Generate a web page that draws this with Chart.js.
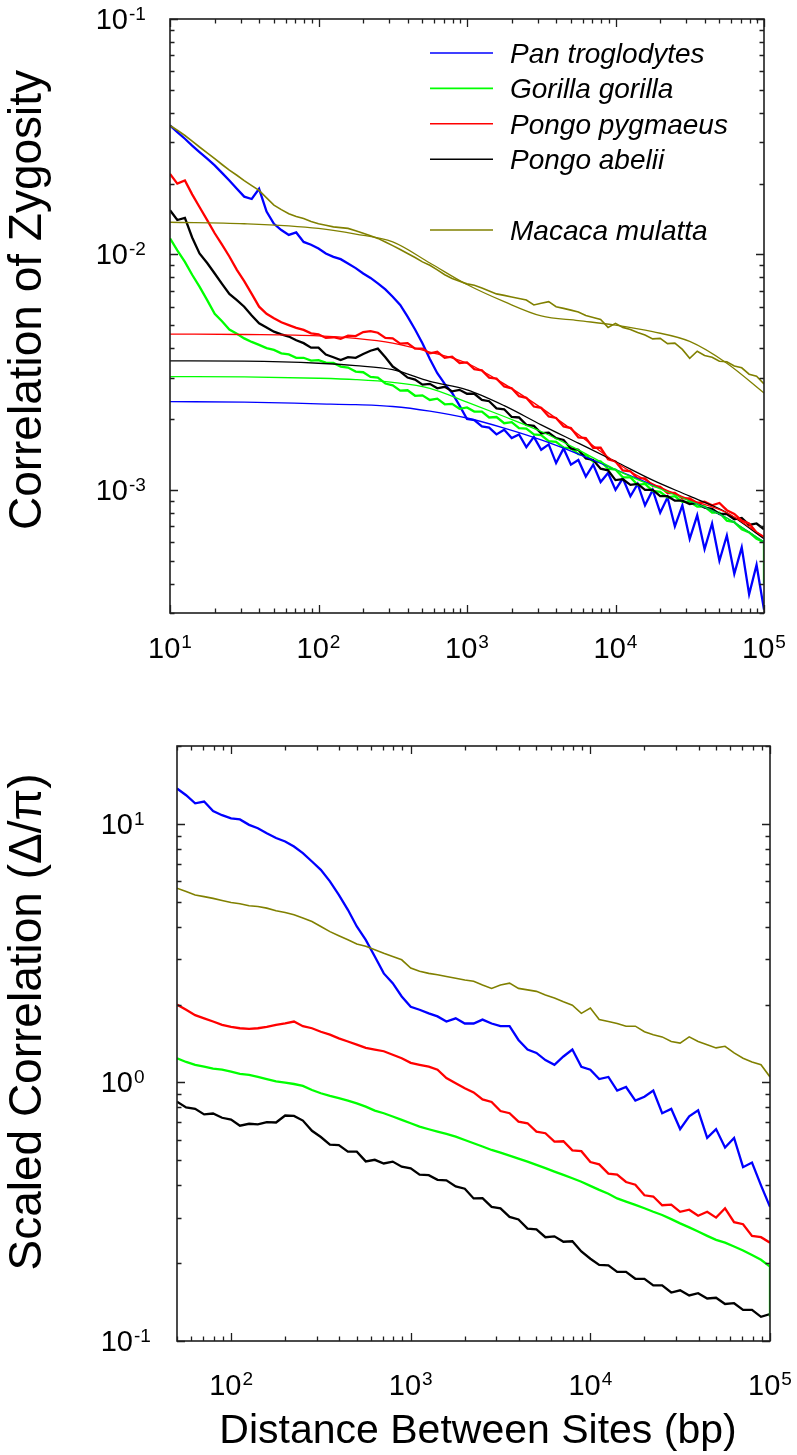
<!DOCTYPE html>
<html>
<head>
<meta charset="utf-8">
<script src="https://cdn.jsdelivr.net/npm/chart.js@4.4.1/dist/chart.umd.min.js"></script>
<style>
  html, body { margin: 0; padding: 0; background: #fff; }
  #wrap { position: relative; width: 797px; height: 1455px; }
  canvas { position: absolute; left: 0; }
  #topChart { top: 0; }
  #bottomChart { top: 700px; }
</style>
</head>
<body>
<div id="wrap">
  <canvas id="topChart" width="797" height="700"></canvas>
  <canvas id="bottomChart" width="797" height="755"></canvas>
</div>
<script>
// species and colours
const species = ['Pan troglodytes', 'Gorilla gorilla', 'Pongo pygmaeus', 'Pongo abelii', 'Macaca mulatta'];
const colors = ['#0000ff', '#00ff00', '#ff0000', '#000000', '#808000'];

// ---- top panel: correlation of zygosity vs distance (bp) ----
const distTop = [
  10, 11.2, 12.6, 14.1, 15.8, 17.8, 20, 22.4, 25.1, 28.2, 31.6, 35.5, 39.8, 44.7, 50.1, 56.2, 63.1, 70.8, 79.4, 89.1,
  100, 112, 126, 141, 158, 178, 200, 224, 251, 282, 316, 355, 398, 447, 501, 562, 631, 708, 794, 891,
  1000, 1120, 1260, 1410, 1580, 1780, 2000, 2240, 2510, 2820, 3160, 3550, 3980, 4470, 5010, 5620, 6310, 7080, 7940, 8910,
  10000, 11200, 12600, 14100, 15800, 17800, 20000, 22400, 25100, 28200, 31600, 35500, 39800, 44700, 50100, 56200, 63100, 70800, 79400, 89100,
  100000
];
const panTop = [
  0.0353, 0.0331, 0.0310, 0.0290, 0.0272, 0.0255, 0.0239, 0.0222, 0.0206, 0.0190, 0.0176, 0.0172, 0.0190, 0.0152, 0.0135, 0.0127, 0.0121, 0.0124, 0.0113, 0.0110,
  0.0106, 0.0101, 0.00977, 0.00955, 0.00916, 0.00875, 0.00830, 0.00795, 0.00753, 0.00710, 0.00661, 0.00610, 0.00544, 0.00480, 0.00420, 0.00360, 0.00313, 0.00282, 0.00258, 0.00228,
  0.00200, 0.00198, 0.00186, 0.00184, 0.00172, 0.00180, 0.00166, 0.00172, 0.00152, 0.00168, 0.00148, 0.00156, 0.00130, 0.00150, 0.00128, 0.00134, 0.00114, 0.00128, 0.00108, 0.00118,
  0.00100, 0.00112, 0.00094, 0.00106, 0.00086, 0.00100, 0.00080, 0.00093, 0.00070, 0.00086, 0.00062, 0.00078, 0.00056, 0.00072, 0.00050, 0.00064, 0.00044, 0.00057, 0.00036, 0.00048,
  0.00031
];
const gorTop = [
  0.0117, 0.0104, 0.0093, 0.0082, 0.0073, 0.0064, 0.0056, 0.0052, 0.0048, 0.0046, 0.0044, 0.00425, 0.00413, 0.00400, 0.00393, 0.00380, 0.00376, 0.00364, 0.00364, 0.00354,
  0.00356, 0.00347, 0.00346, 0.00334, 0.00331, 0.00318, 0.00316, 0.00302, 0.00300, 0.00283, 0.00278, 0.00264, 0.00265, 0.00251, 0.00252, 0.00241, 0.00244, 0.00231, 0.00232, 0.00221,
  0.00224, 0.00215, 0.00215, 0.00203, 0.00204, 0.00192, 0.00194, 0.00183, 0.00182, 0.00172, 0.00171, 0.00161, 0.00160, 0.00151, 0.00150, 0.00142, 0.00141, 0.00132, 0.00132, 0.00123,
  0.00122, 0.00113, 0.00113, 0.00105, 0.00106, 0.00099, 0.00098, 0.00093, 0.00094, 0.00089, 0.00089, 0.00085, 0.00085, 0.00080, 0.00080, 0.00074, 0.00073, 0.00068, 0.00066, 0.00062,
  0.00060
];
const gorTopEnd = 0.00040;
const pygTop = [
  0.0220, 0.0200, 0.0206, 0.0180, 0.0159, 0.0140, 0.0123, 0.0110, 0.0098, 0.0086, 0.0077, 0.0068, 0.0060, 0.0056, 0.00536, 0.00515, 0.00501, 0.00488, 0.00478, 0.00462,
  0.00458, 0.00442, 0.00445, 0.00438, 0.00452, 0.00450, 0.00468, 0.00472, 0.00465, 0.00442, 0.00440, 0.00418, 0.00420, 0.00398, 0.00398, 0.00380, 0.00386, 0.00364, 0.00368, 0.00346,
  0.00348, 0.00326, 0.00322, 0.00300, 0.00297, 0.00275, 0.00270, 0.00250, 0.00246, 0.00226, 0.00223, 0.00205, 0.00202, 0.00186, 0.00183, 0.00167, 0.00166, 0.00151, 0.00151, 0.00135,
  0.00132, 0.00121, 0.00120, 0.00112, 0.00112, 0.00104, 0.00103, 0.00097, 0.00097, 0.00092, 0.00092, 0.00088, 0.00089, 0.00086, 0.00088, 0.00082, 0.00079, 0.00074, 0.00072, 0.00066,
  0.00063
];
const abeTop = [
  0.0154, 0.0140, 0.0143, 0.0118, 0.0101, 0.0092, 0.0083, 0.0075, 0.0068, 0.0064, 0.0060, 0.0055, 0.0051, 0.0049, 0.0047, 0.00458, 0.00448, 0.00432, 0.00420, 0.00402,
  0.00402, 0.00376, 0.00366, 0.00356, 0.00366, 0.00364, 0.00378, 0.00390, 0.00398, 0.00366, 0.00334, 0.00318, 0.00300, 0.00294, 0.00280, 0.00282, 0.00270, 0.00274, 0.00262, 0.00266,
  0.00256, 0.00256, 0.00241, 0.00238, 0.00222, 0.00220, 0.00204, 0.00203, 0.00189, 0.00187, 0.00174, 0.00175, 0.00166, 0.00163, 0.00150, 0.00148, 0.00136, 0.00134, 0.00123, 0.00121,
  0.00110, 0.00111, 0.00105, 0.00106, 0.00100, 0.00100, 0.00094, 0.00094, 0.00090, 0.00090, 0.00087, 0.00088, 0.00084, 0.00083, 0.00079, 0.00079, 0.00075, 0.00076, 0.00071, 0.00072,
  0.00068
];
const macTop = [
  0.0353, 0.0337, 0.0320, 0.0303, 0.0286, 0.0270, 0.0255, 0.0241, 0.0228, 0.0217, 0.0206, 0.0196, 0.0187, 0.0174, 0.0162, 0.0155, 0.0149, 0.0145, 0.0142, 0.0138,
  0.0135, 0.0133, 0.0131, 0.0130, 0.0129, 0.0126, 0.0123, 0.0120, 0.0117, 0.0113, 0.0109, 0.0105, 0.0101, 0.0097, 0.0093, 0.0090, 0.0086, 0.0082, 0.0079, 0.0077,
  0.0075, 0.0074, 0.0072, 0.0070, 0.0068, 0.0067, 0.0066, 0.0065, 0.0064, 0.0061, 0.0062, 0.0063, 0.0060, 0.0059, 0.0058, 0.0057, 0.0055, 0.0054, 0.0053, 0.0049,
  0.0051, 0.0049, 0.0048, 0.00466, 0.00455, 0.00438, 0.00440, 0.00418, 0.00420, 0.00395, 0.00362, 0.00388, 0.00372, 0.00366, 0.00352, 0.00350, 0.00336, 0.00330, 0.00310, 0.00304,
  0.00282
];

// fitted curves (top panel)
const fitDist = [10, 31.6, 100, 178, 316, 562, 1000, 1780, 3160, 5620, 10000, 17800, 31600, 56200, 100000];
const panFit = [0.00237, 0.00236, 0.00232, 0.00230, 0.00226, 0.00216, 0.00202, 0.00183, 0.00163, 0.00142, 0.00122, 0.00105, 0.00090, 0.00076, 0.00060];
const gorFit = [0.00303, 0.00302, 0.00298, 0.00294, 0.00286, 0.00270, 0.00236, 0.00205, 0.00177, 0.00148, 0.00122, 0.00104, 0.00090, 0.00076, 0.00060];
const pygFit = [0.00459, 0.00457, 0.00451, 0.00440, 0.00420, 0.00385, 0.00345, 0.00282, 0.00223, 0.00172, 0.00131, 0.00106, 0.00091, 0.00080, 0.00063];
const abeFit = [0.00353, 0.00352, 0.00345, 0.00337, 0.00324, 0.00289, 0.00266, 0.00228, 0.00189, 0.00158, 0.00132, 0.00110, 0.00094, 0.00080, 0.00062];
const macFit = [0.0137, 0.0135, 0.0129, 0.0122, 0.0113, 0.00920, 0.00745, 0.00630, 0.00548, 0.00524, 0.00501, 0.00470, 0.00427, 0.00345, 0.00258];

// ---- bottom panel: scaled correlation (delta / pi) ----
const distBot = [
  50, 56.2, 63.1, 70.8, 79.4, 89.1,
  100, 112, 126, 141, 158, 178, 200, 224, 251, 282, 316, 355, 398, 447, 501, 562, 631, 708, 794, 891,
  1000, 1120, 1260, 1410, 1580, 1780, 2000, 2240, 2510, 2820, 3160, 3550, 3980, 4470, 5010, 5620, 6310, 7080, 7940, 8910,
  10000, 11200, 12600, 14100, 15800, 17800, 20000, 22400, 25100, 28200, 31600, 35500, 39800, 44700, 50100, 56200, 63100, 70800, 79400, 89100,
  100000
];
const panBot = [
  13.7, 12.9, 12.0, 12.2, 11.2, 10.8, 10.5, 10.4, 9.91, 9.62, 9.20, 8.81, 8.55, 8.17, 7.70, 7.15, 6.64, 5.99, 5.31, 4.65,
  4.01, 3.56, 3.07, 2.64, 2.42, 2.15, 1.96, 1.91, 1.85, 1.80, 1.72, 1.77, 1.69,
  1.69, 1.75, 1.69, 1.65, 1.65, 1.46, 1.34, 1.30, 1.22, 1.17, 1.26, 1.34, 1.15,
  1.12, 1.03, 1.05, 0.93, 0.96, 0.85, 0.88, 0.93, 0.76, 0.79, 0.66, 0.74, 0.78, 0.61, 0.66, 0.56, 0.61, 0.47, 0.49, 0.40, 0.33
];
const gorBot = [
  1.24, 1.20, 1.17, 1.15, 1.13, 1.12, 1.10, 1.08, 1.07, 1.05, 1.03, 1.01, 0.998, 0.986, 0.969, 0.935, 0.908, 0.887, 0.869, 0.851,
  0.830, 0.806, 0.778, 0.760, 0.738, 0.716, 0.695, 0.675, 0.659, 0.645, 0.632, 0.617, 0.599,
  0.582, 0.565, 0.548, 0.535, 0.521, 0.507, 0.494, 0.480, 0.466, 0.452, 0.439, 0.426, 0.413, 0.398, 0.384, 0.371, 0.356, 0.346, 0.336, 0.326,
  0.316, 0.307, 0.296, 0.285, 0.275, 0.265, 0.255, 0.246, 0.240, 0.232, 0.224, 0.215, 0.206, 0.194
];
const gorBotEnd = 0.124;
const pygBot = [
  2.00, 1.91, 1.82, 1.77, 1.72, 1.67, 1.64, 1.62, 1.61, 1.62, 1.64, 1.67, 1.69, 1.72, 1.65, 1.62, 1.57, 1.53, 1.48, 1.44,
  1.40, 1.36, 1.34, 1.32, 1.28, 1.24, 1.19, 1.17, 1.15, 1.12, 1.04, 0.993, 0.949,
  0.915, 0.860, 0.840, 0.775, 0.760, 0.705, 0.695, 0.645, 0.636, 0.590, 0.592, 0.546, 0.542, 0.492, 0.482, 0.444, 0.440, 0.412, 0.402, 0.366,
  0.362, 0.335, 0.337, 0.316, 0.322, 0.305, 0.316, 0.300, 0.326, 0.288, 0.283, 0.255, 0.252, 0.240
];
const abeBot = [
  0.843, 0.800, 0.790, 0.752, 0.758, 0.730, 0.718, 0.680, 0.692, 0.688, 0.702, 0.700, 0.745, 0.742, 0.712, 0.650, 0.615, 0.575, 0.572, 0.540,
  0.540, 0.495, 0.502, 0.486, 0.494, 0.472, 0.465, 0.440, 0.438, 0.420, 0.418, 0.396, 0.388,
  0.356, 0.357, 0.330, 0.326, 0.302, 0.295, 0.272, 0.270, 0.252, 0.254, 0.242, 0.243, 0.222, 0.208, 0.197, 0.196, 0.185, 0.185, 0.174, 0.174,
  0.164, 0.164, 0.154, 0.157, 0.150, 0.153, 0.146, 0.147, 0.139, 0.140, 0.132, 0.132, 0.124, 0.127
];
const macBot = [
  5.64, 5.47, 5.31, 5.23, 5.15, 5.05, 4.96, 4.91, 4.82, 4.79, 4.72, 4.61, 4.54, 4.45, 4.32, 4.19, 4.01, 3.83, 3.69, 3.56,
  3.43, 3.36, 3.26, 3.16, 3.07, 2.98, 2.77, 2.69, 2.64, 2.61, 2.57, 2.53, 2.49,
  2.46, 2.38, 2.31, 2.38, 2.42, 2.31, 2.28, 2.25, 2.18, 2.12, 2.05, 1.99, 1.85, 1.94, 1.75, 1.72, 1.69, 1.65, 1.65, 1.57,
  1.53, 1.50, 1.44, 1.42, 1.50, 1.44, 1.40, 1.36, 1.38, 1.30, 1.24, 1.20, 1.17, 1.05
];

const FONT = '"Liberation Sans", Arial, Helvetica, sans-serif';

function pts(xs, ys) {
  return xs.map((x, i) => ({ x: x, y: ys[i] }));
}

function line(label, data, color, width, smooth) {
  return {
    label: label,
    data: data,
    borderColor: color,
    backgroundColor: color,
    borderWidth: width,
    pointRadius: 0,
    fill: false,
    tension: smooth ? 0.4 : 0,
    cubicInterpolationMode: smooth ? 'monotone' : 'default'
  };
}

// log ticks, labels, frame, titles and legend drawn from the chart's own scales
const logFrame = {
  id: 'logFrame',
  afterDraw(chart, args, o) {
    const ctx = chart.ctx;
    const a = chart.chartArea;
    const xs = chart.scales.x, ys = chart.scales.y;
    ctx.save();
    ctx.strokeStyle = '#1e1e1e';
    ctx.lineWidth = 1.3;

    const ticksFor = (min, max) => {
      const out = [];
      for (let e = Math.floor(Math.log10(min)); e <= Math.ceil(Math.log10(max)); e++) {
        for (let m = 1; m <= 9; m++) {
          const v = m * Math.pow(10, e);
          if (v < min * 0.999 || v > max * 1.001) continue;
          out.push({ v: v, e: e, major: m === 1 });
        }
      }
      return out;
    };

    ctx.beginPath();
    ticksFor(xs.min, xs.max).forEach(t => {
      const px = Math.round(xs.getPixelForValue(t.v)) + 0.5;
      const len = t.major ? 8 : 4.5;
      ctx.moveTo(px, a.bottom); ctx.lineTo(px, a.bottom - len);
      ctx.moveTo(px, a.top); ctx.lineTo(px, a.top + len);
    });
    ticksFor(ys.min, ys.max).forEach(t => {
      const py = Math.round(ys.getPixelForValue(t.v)) + 0.5;
      const len = t.major ? 8 : 4.5;
      ctx.moveTo(a.left, py); ctx.lineTo(a.left + len, py);
      ctx.moveTo(a.right, py); ctx.lineTo(a.right - len, py);
    });
    ctx.stroke();

    ctx.lineWidth = 1.6;
    ctx.strokeRect(a.left, a.top, a.right - a.left, a.bottom - a.top);

    // tick labels: 10 with superscript exponent
    ctx.fillStyle = '#000';
    ctx.textBaseline = 'alphabetic';
    const big = '29px ' + FONT, small = '19px ' + FONT;
    ticksFor(xs.min, xs.max).filter(t => t.major).forEach(t => {
      const px = xs.getPixelForValue(t.v);
      ctx.font = big; const w1 = ctx.measureText('10').width;
      ctx.font = small; const w2 = ctx.measureText(String(t.e)).width;
      const x0 = px - (w1 + 1 + w2) / 2;
      ctx.textAlign = 'left';
      ctx.font = big; ctx.fillText('10', x0, o.xLabelBase);
      ctx.font = small; ctx.fillText(String(t.e), x0 + w1 + 1, o.xLabelBase - 10);
    });
    ticksFor(ys.min, ys.max).filter(t => t.major).forEach(t => {
      const py = ys.getPixelForValue(t.v);
      ctx.font = big; ctx.textAlign = 'right';
      ctx.fillText('10', o.yLabelRight, py + 10);
      ctx.font = small; ctx.textAlign = 'left';
      ctx.fillText(String(t.e), o.yLabelRight + 1, py + 1);
    });

    // axis titles
    ctx.font = '46px ' + FONT;
    ctx.textAlign = 'center';
    ctx.save();
    ctx.translate(o.yTitleX, o.yTitleY);
    ctx.rotate(-Math.PI / 2);
    ctx.fillText(o.yTitle, 0, 0);
    ctx.restore();
    if (o.xTitle) {
      ctx.font = '41px ' + FONT;
      ctx.fillText(o.xTitle, o.xTitleX, o.xTitleY);
    }

    // legend
    if (o.legend) {
      const rows = [0, 1, 2, 3, 5];
      ctx.font = 'italic 28px ' + FONT;
      ctx.textAlign = 'left';
      ctx.lineWidth = 1.6;
      species.forEach((s, i) => {
        const ly = 53 + rows[i] * 35.4;
        ctx.strokeStyle = colors[i];
        ctx.beginPath(); ctx.moveTo(430, ly); ctx.lineTo(493, ly); ctx.stroke();
        ctx.fillStyle = '#000';
        ctx.fillText(s, 510, ly + 10);
      });
    }
    ctx.restore();
  }
};

const gorTopPts = pts(distTop, gorTop).concat([{ x: 100000, y: gorTopEnd }]);
const gorBotPts = pts(distBot, gorBot).concat([{ x: 100000, y: gorBotEnd }]);

new Chart(document.getElementById('topChart'), {
  type: 'line',
  data: {
    datasets: [
      line('Macaca mulatta fit', pts(fitDist, macFit), colors[4], 1.3, true),
      line('Pongo pygmaeus fit', pts(fitDist, pygFit), colors[2], 1.3, true),
      line('Pongo abelii fit', pts(fitDist, abeFit), colors[3], 1.3, true),
      line('Gorilla gorilla fit', pts(fitDist, gorFit), colors[1], 1.3, true),
      line('Pan troglodytes fit', pts(fitDist, panFit), colors[0], 1.3, true),
      line(species[4], pts(distTop, macTop), colors[4], 1.6, false),
      line(species[2], pts(distTop, pygTop), colors[2], 2.3, false),
      line(species[3], pts(distTop, abeTop), colors[3], 2.3, false),
      line(species[1], gorTopPts, colors[1], 2.3, false),
      line(species[0], pts(distTop, panTop), colors[0], 2.3, false)
    ]
  },
  options: {
    responsive: false,
    animation: false,
    devicePixelRatio: 1,
    layout: { padding: { left: 170, top: 19, right: 33, bottom: 87 } },
    scales: {
      x: { type: 'logarithmic', min: 10, max: 100000, display: false },
      y: { type: 'logarithmic', min: 0.0003, max: 0.1, display: false }
    },
    plugins: {
      legend: { display: false },
      tooltip: { enabled: false },
      logFrame: {
        xLabelBase: 658, yLabelRight: 128,
        yTitle: 'Correlation of Zygosity', yTitleX: 41, yTitleY: 300,
        legend: true
      }
    }
  },
  plugins: [logFrame]
});

new Chart(document.getElementById('bottomChart'), {
  type: 'line',
  data: {
    datasets: [
      line(species[4], pts(distBot, macBot), colors[4], 1.6, false),
      line(species[0], pts(distBot, panBot), colors[0], 2.3, false),
      line(species[2], pts(distBot, pygBot), colors[2], 2.3, false),
      line(species[1], gorBotPts, colors[1], 2.3, false),
      line(species[3], pts(distBot, abeBot), colors[3], 2.3, false)
    ]
  },
  options: {
    responsive: false,
    animation: false,
    devicePixelRatio: 1,
    layout: { padding: { left: 177, top: 46, right: 27, bottom: 114 } },
    scales: {
      x: { type: 'logarithmic', min: 50, max: 100000, display: false },
      y: { type: 'logarithmic', min: 0.1, max: 20, display: false }
    },
    plugins: {
      legend: { display: false },
      tooltip: { enabled: false },
      logFrame: {
        xLabelBase: 695, yLabelRight: 133,
        yTitle: 'Scaled Correlation (\u0394/\u03c0)', yTitleX: 41, yTitleY: 322,
        xTitle: 'Distance Between Sites (bp)', xTitleX: 478, xTitleY: 743,
        legend: false
      }
    }
  },
  plugins: [logFrame]
});
</script>
</body>
</html>
